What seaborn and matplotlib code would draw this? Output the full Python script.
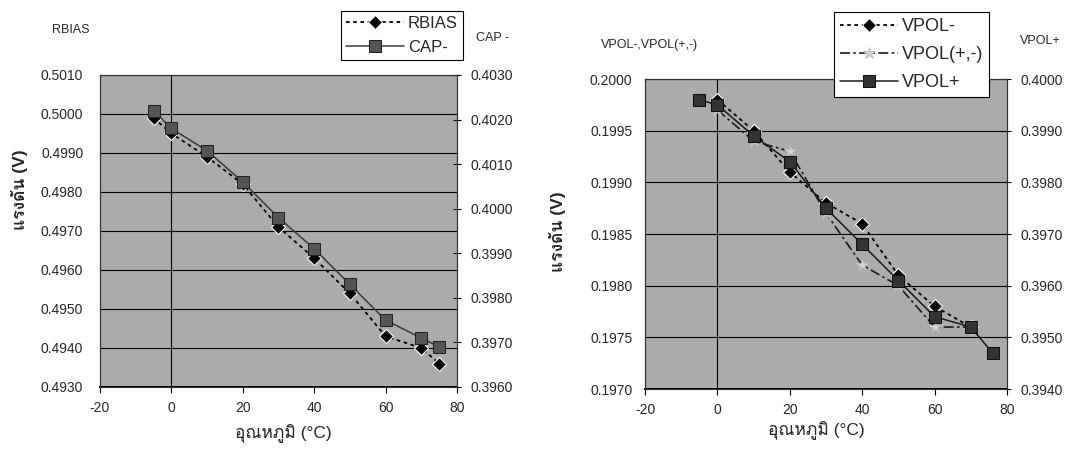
import matplotlib
matplotlib.use("Agg")
import matplotlib.pyplot as plt
import seaborn as sns
from matplotlib import font_manager
from matplotlib.ft2font import FT2Font

# left panel: RBIAS on left axis, CAP- on right axis
temp_left = [-5, 0, 10, 20, 30, 40, 50, 60, 70, 75]
rbias = [0.4999, 0.4995, 0.4989, 0.4982, 0.4971, 0.4963, 0.4954, 0.4943, 0.4940, 0.4936]
cap_minus = [0.4022, 0.4018, 0.4013, 0.4006, 0.3998, 0.3991, 0.3983, 0.3975, 0.3971, 0.3969]

# right panel: VPOL- and VPOL(+,-) on left axis, VPOL+ on right axis
temp_vpol = [0, 10, 20, 30, 40, 50, 60, 70]
vpol_minus = [0.1998, 0.1995, 0.1991, 0.1988, 0.1986, 0.1981, 0.1978, 0.1976]
vpol_pm = [0.1997, 0.1994, 0.1993, 0.1987, 0.1982, 0.1980, 0.1976, 0.1976]
temp_vplus = [-5, 0, 10, 20, 30, 40, 50, 60, 70, 76]
vpol_plus = [0.3996, 0.3995, 0.3989, 0.3984, 0.3975, 0.3968, 0.3961, 0.3954, 0.3952, 0.3947]

x_ticks = [-20, 0, 20, 40, 60, 80]
left_ticks_a = [0.4930 + 0.0010 * i for i in range(9)]
right_ticks_a = [0.3960 + 0.0010 * i for i in range(8)]
left_ticks_b = [0.1970 + 0.0005 * i for i in range(7)]
right_ticks_b = [0.3940 + 0.0010 * i for i in range(7)]

xlabel = "อุณหภูมิ (°C)"
ylabel = "แรงดัน (V)"


def find_thai_font():
    for f in font_manager.fontManager.ttflist:
        try:
            if 0x0E41 in FT2Font(f.fname).get_charmap():
                return f.name
        except Exception:
            continue
    return None


sns.set_style("white")
thai = find_thai_font()
families = ["Liberation Sans", "DejaVu Sans"]
if thai:
    families.insert(1, thai)
plt.rcParams["font.family"] = families
plt.rcParams["axes.unicode_minus"] = False

PLOT_BG = "#ababab"


def style_axes(ax, ax2, yticks, yticks2, ylim, ylim2, ypad):
    ax.set_facecolor(PLOT_BG)
    ax.set_xlim(-20, 80)
    ax.set_ylim(*ylim)
    ax.set_xticks(x_ticks)
    ax.set_yticks(yticks)
    ax.set_yticklabels([f"{v:.4f}" for v in yticks])
    ax.yaxis.grid(True, color="black", linewidth=0.8)
    ax.xaxis.grid(False)
    ax.set_axisbelow(True)
    ax.axvline(0, color="black", linewidth=0.8, zorder=1)
    ax.tick_params(axis="y", length=0, labelsize=10, pad=ypad)
    ax.tick_params(axis="x", direction="out", length=4, labelsize=10, pad=6,
                   bottom=True, color="black")
    ax2.set_ylim(*ylim2)
    ax2.set_yticks(yticks2)
    ax2.set_yticklabels([f"{v:.4f}" for v in yticks2])
    ax2.tick_params(axis="y", direction="inout", length=6, labelsize=10,
                    right=True, color="black", pad=7)
    ax2.grid(False)
    for a in (ax, ax2):
        for sp in a.spines.values():
            sp.set_color("#333333")
            sp.set_linewidth(0.8)
    ax.spines["bottom"].set_linewidth(1.4)
    ax.spines["bottom"].set_color("black")
    ax.set_xlabel("")
    ax.set_ylabel("")
    ax2.set_ylabel("")


fig = plt.figure(figsize=(10.74, 4.55), dpi=100)
axL = fig.add_axes([0.0931, 0.1495, 0.3324, 0.6857])
axL2 = axL.twinx()
axR = fig.add_axes([0.6006, 0.1450, 0.3370, 0.6813])
axR2 = axR.twinx()

sns.lineplot(x=temp_left, y=rbias, ax=axL, color="black", marker="D",
             markersize=7, linestyle=(0, (2, 2)), linewidth=1.3, label="RBIAS")
sns.lineplot(x=temp_left, y=cap_minus, ax=axL2, color="#3a3a3a", marker="s",
             markersize=8, markerfacecolor="#555555", markeredgecolor="#222222",
             linestyle="-", linewidth=1.1, label="CAP-")

sns.lineplot(x=temp_vpol, y=vpol_minus, ax=axR, color="black", marker="D",
             markersize=7, linestyle=(0, (2, 2)), linewidth=1.3, label="VPOL-")
sns.lineplot(x=temp_vpol, y=vpol_pm, ax=axR, color="#1a1a1a", marker="*",
             markersize=9, markerfacecolor="#d6d6d6", markeredgecolor="#bdbdbd",
             linestyle=(0, (6, 2, 1.5, 2)), linewidth=1.2, label="VPOL(+,-)")
sns.lineplot(x=temp_vplus, y=vpol_plus, ax=axR2, color="#1a1a1a", marker="s",
             markersize=8, markerfacecolor="#333333", markeredgecolor="#111111",
             linestyle="-", linewidth=1.1, label="VPOL+")

for a in (axL, axL2, axR, axR2):
    if a.get_legend() is not None:
        a.get_legend().remove()

style_axes(axL, axL2, left_ticks_a, right_ticks_a, (0.4930, 0.5010), (0.3960, 0.4030), 12)
style_axes(axR, axR2, left_ticks_b, right_ticks_b, (0.1970, 0.2000), (0.3940, 0.4000), 9)

# legends sit in white boxes above / over the plot area
hL = axL.get_lines()[:1] + axL2.get_lines()[:1]
legL = fig.legend(hL, ["RBIAS", "CAP-"], loc="upper left",
                  bbox_to_anchor=(341 / 1074, 1 - 11 / 455), frameon=True,
                  fancybox=False, edgecolor="black", framealpha=1, fontsize=12,
                  handlelength=3.5, borderaxespad=0, borderpad=0.3,
                  labelspacing=0.55, handletextpad=0.2)
legL.get_frame().set_linewidth(0.8)

hR = [l for l in axR.get_lines() if l.get_label() in ("VPOL-", "VPOL(+,-)")]
hR += [l for l in axR2.get_lines() if l.get_label() == "VPOL+"]
legR = fig.legend(hR, ["VPOL-", "VPOL(+,-)", "VPOL+"], loc="upper left",
                  bbox_to_anchor=(834 / 1074, 1 - 12 / 455), frameon=True,
                  fancybox=False, edgecolor="black", framealpha=1, fontsize=13,
                  handlelength=3.2, borderaxespad=0, borderpad=0.35,
                  labelspacing=0.6, handletextpad=0.2)
legR.get_frame().set_linewidth(0.8)

# series titles above each value axis
fig.text(52 / 1074, 1 - 30 / 455, "RBIAS", fontsize=9, va="center", ha="left")
fig.text(476 / 1074, 1 - 38 / 455, "CAP -", fontsize=9, va="center", ha="left")
fig.text(601 / 1074, 1 - 45 / 455, "VPOL-,VPOL(+,-)", fontsize=9, va="center", ha="left")
fig.text(1020 / 1074, 1 - 41 / 455, "VPOL+", fontsize=9, va="center", ha="left")

fig.text(20 / 1074, 1 - 190 / 455, ylabel, fontsize=12.5, rotation=90,
         va="center", ha="center", fontweight="bold")
fig.text(557 / 1074, 1 - 232 / 455, ylabel, fontsize=12.5, rotation=90,
         va="center", ha="center", fontweight="bold")
fig.text(283 / 1074, 1 - 433 / 455, xlabel, fontsize=12.5, va="center", ha="center")
fig.text(816 / 1074, 1 - 430 / 455, xlabel, fontsize=12.5, va="center", ha="center")

fig.savefig("out.png", dpi=100)
